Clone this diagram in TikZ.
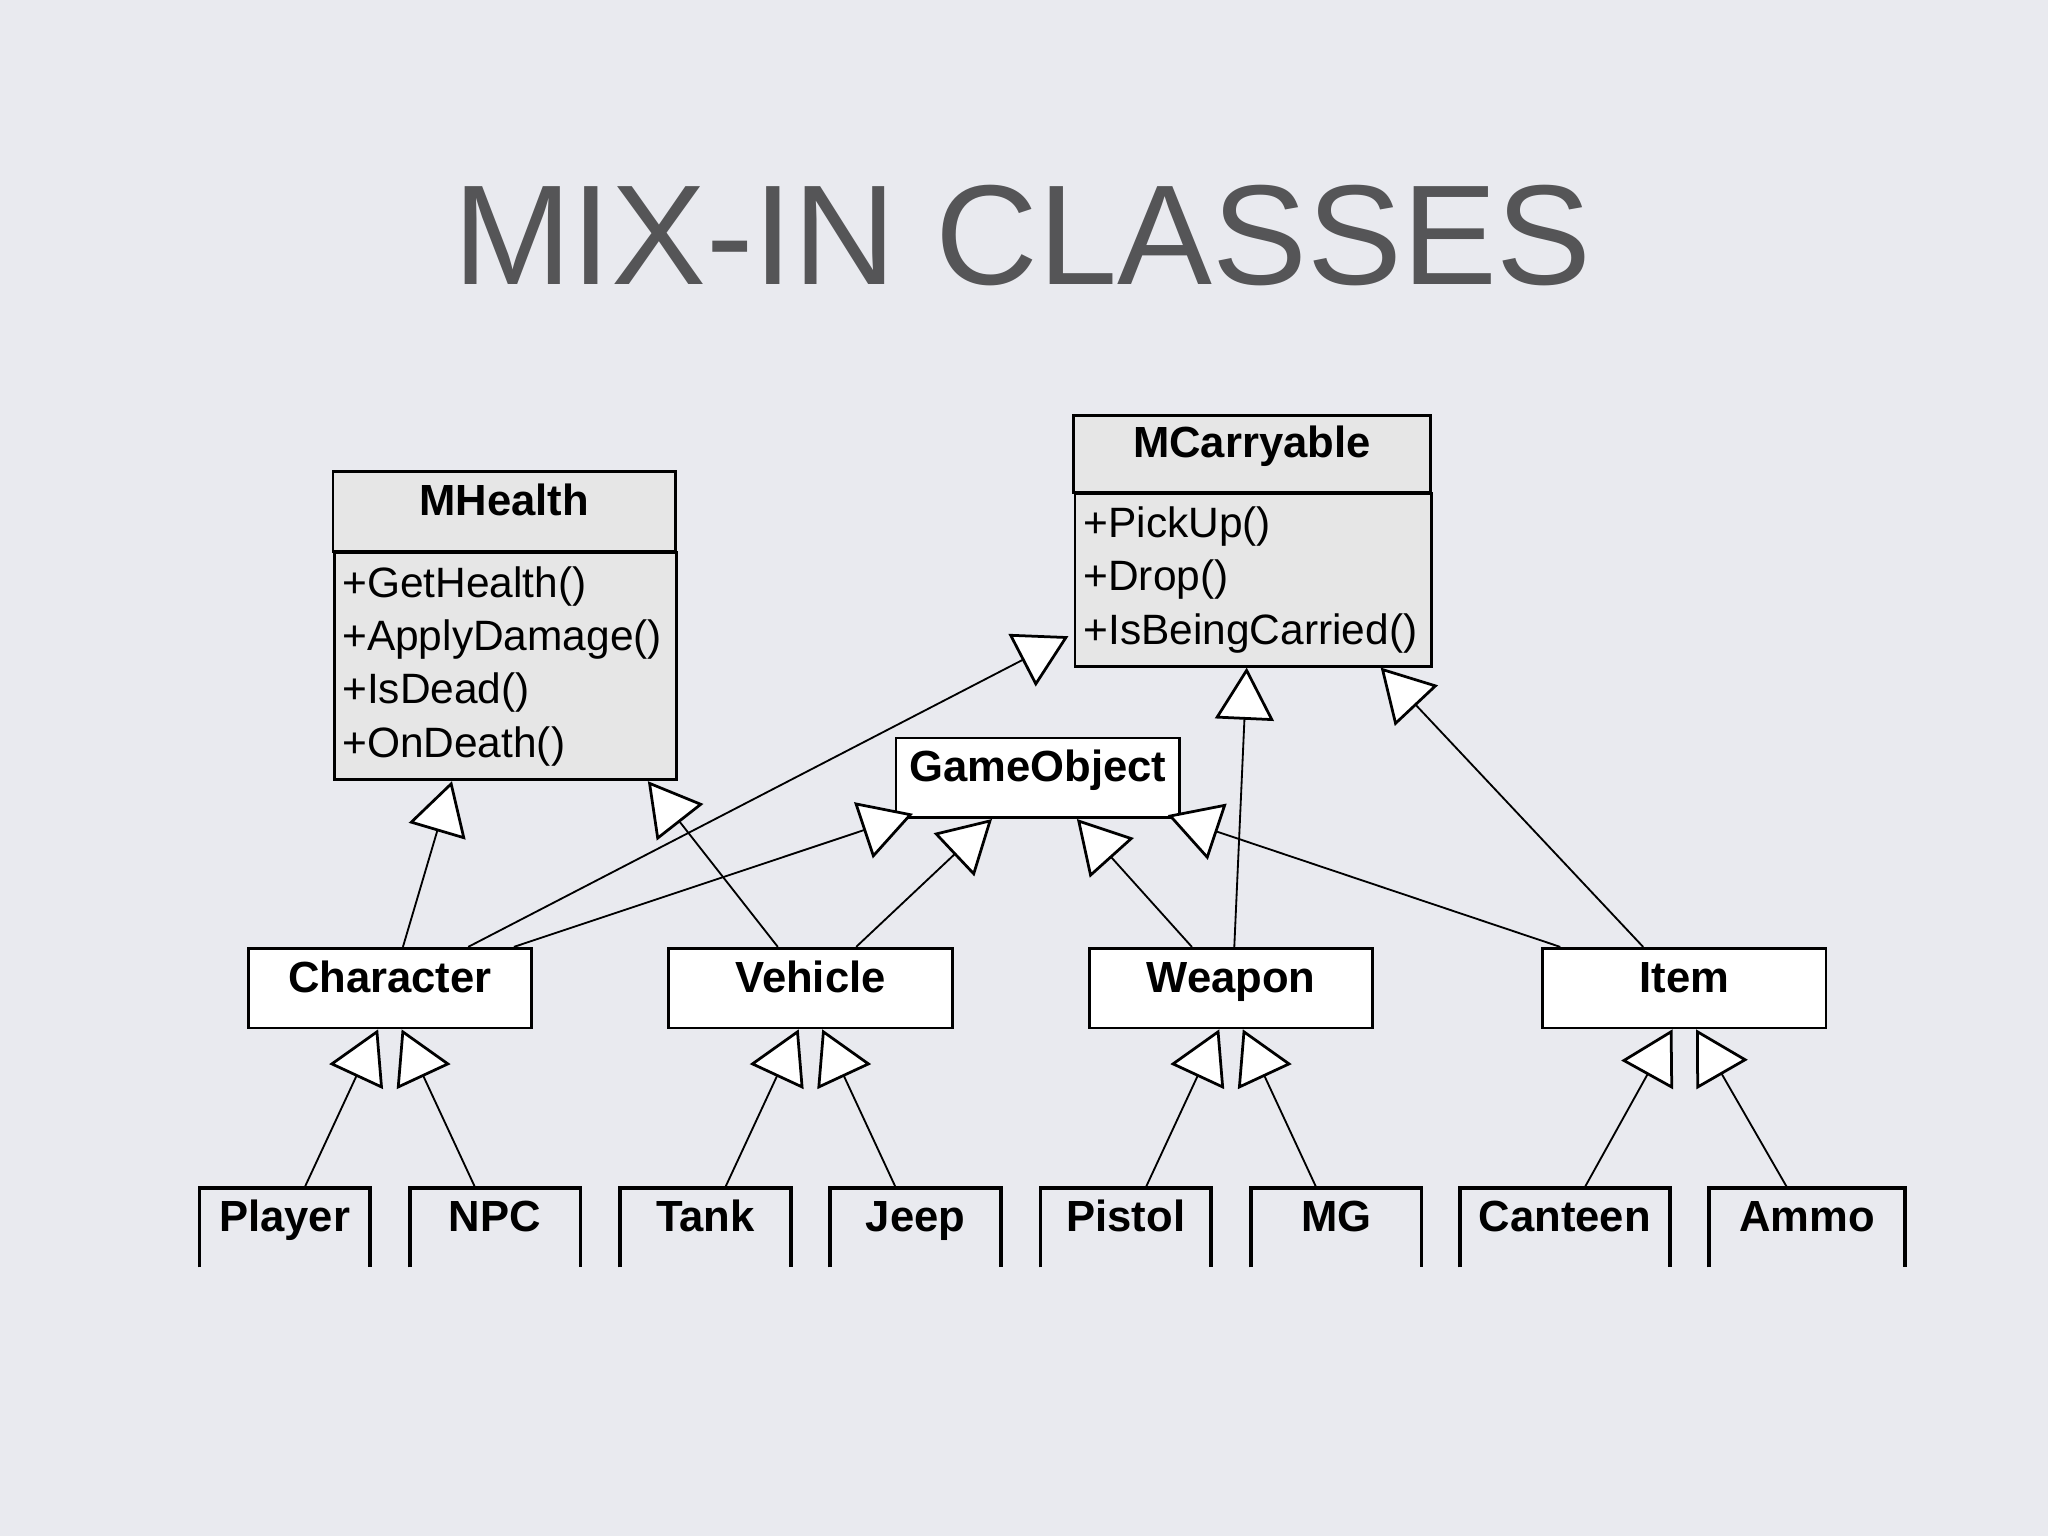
\documentclass[tikz,border=0pt]{standalone}
\usepackage{fontspec}
\setmainfont{Liberation Sans}
\usetikzlibrary{arrows.meta,positioning,calc}
\definecolor{slidebg}{RGB}{233,234,239}
\definecolor{titlegray}{RGB}{85,85,87}
\definecolor{mixfill}{RGB}{230,230,230}
\tikzset{
  cls/.style={draw, line width=1.2pt, fill=white, inner sep=0pt, text height=1.4ex, text depth=0.75ex,
    font=\bfseries\fontsize{19}{22}\selectfont},
  mixtitle/.style={cls, fill=mixfill},
  mixbody/.style={draw, line width=1.2pt, fill=mixfill, inner sep=2pt, align=left,
    font=\fontsize{18.5}{23.2}\selectfont, anchor=north west},
  leaf/.style={inner sep=0pt, text height=1.4ex, text depth=0.75ex, font=\bfseries\fontsize{19}{22}\selectfont},
  inherit/.style={line width=0.8pt, -{Triangle[length=0.8cm,width=0.9cm,fill=white,line width=1.2pt]}},
}
\begin{document}
\begin{tikzpicture}[x=0.02cm,y=-0.02cm]
\fill[slidebg] (0,0) rectangle (1568,1176);
\useasboundingbox (0,0) rectangle (1568,1176);
\node[text=titlegray, font=\fontsize{62}{66}\selectfont] (title) at (783,180) {MIX-IN CLASSES};

% mix-in classes
\node[mixtitle, minimum width=5.24cm, minimum height=1.22cm] (mh) at (386,391.5) {MHealth};
\node[mixbody, minimum width=5.24cm, minimum height=3.48cm, text width=5.0cm] (mhb) at (255,422) {+GetHealth()\\+ApplyDamage()\\+IsDead()\\+OnDeath()};
\node[mixtitle, minimum width=5.46cm, minimum height=1.18cm] (mc) at (958.5,347.5) {MCarryable};
\node[mixbody, minimum width=5.46cm, minimum height=2.64cm, text width=5.2cm] (mcb) at (822,377) {+PickUp()\\+Drop()\\+IsBeingCarried()};

% base and middle classes
\node[cls, minimum width=4.34cm, minimum height=1.22cm] (go) at (794.5,595.5) {GameObject};
\foreach \n/\t/\x in {chr/Character/298.5, veh/Vehicle/620.5, wpn/Weapon/942.5, itm/Item/1289.5}
  \node[cls, minimum width=4.34cm, minimum height=1.22cm] (\n) at (\x,756.5) {\t};

% leaf classes (open at the bottom)
\foreach \n/\t/\x/\w in {ply/Player/218/130, npc/NPC/379/130, tnk/Tank/540/130, jep/Jeep/701/130,
    pst/Pistol/862/130, mg/MG/1023/130, cnt/Canteen/1198/160, amm/Ammo/1383.5/149}{
  \node[leaf, minimum width=\w*0.02cm, minimum height=1.2cm] (\n) at (\x,940) {\t};
  \draw[line width=1.6pt] (\n.south west) |- (\n.north east) -- (\n.south east);
}

% inheritance
\draw[inherit] ([xshift=0.2cm]chr.north) -- ([xshift=-0.82cm]mhb.south);
\draw[inherit] ([xshift=-0.5cm]veh.north) -- ([xshift=2.18cm]mhb.south);
\draw[inherit] ([xshift=1.2cm]chr.north) -- ([xshift=-0.08cm,yshift=0.48cm]mcb.south west);
\draw[inherit] ([xshift=1.9cm]chr.north) -- ([xshift=0.28cm,yshift=0.08cm]go.south west);
\draw[inherit] ([xshift=0.7cm]veh.north) -- ([xshift=-0.7cm]go.south);
\draw[inherit] ([xshift=-0.6cm]wpn.north) -- ([xshift=0.6cm]go.south);
\draw[inherit] ([xshift=-1.9cm]itm.north) -- ([xshift=-0.2cm,yshift=0.06cm]go.south east);
\draw[inherit] ([xshift=0.05cm]wpn.north) -- ([xshift=-0.1cm]mcb.south);
\draw[inherit] ([xshift=-0.63cm]itm.north) -- ([xshift=-0.8cm]mcb.south east);
\foreach \c/\p in {ply/chr, tnk/veh, pst/wpn, cnt/itm}
  \draw[inherit] ([xshift=0.3cm]\c.north) -- ([xshift=-0.18cm]\p.south);
\foreach \c/\p in {npc/chr, jep/veh, mg/wpn}
  \draw[inherit] ([xshift=-0.3cm]\c.north) -- ([xshift=0.18cm]\p.south);
\draw[inherit] ([xshift=-0.3cm]amm.north) -- ([xshift=0.18cm]itm.south);
\end{tikzpicture}
\end{document}
